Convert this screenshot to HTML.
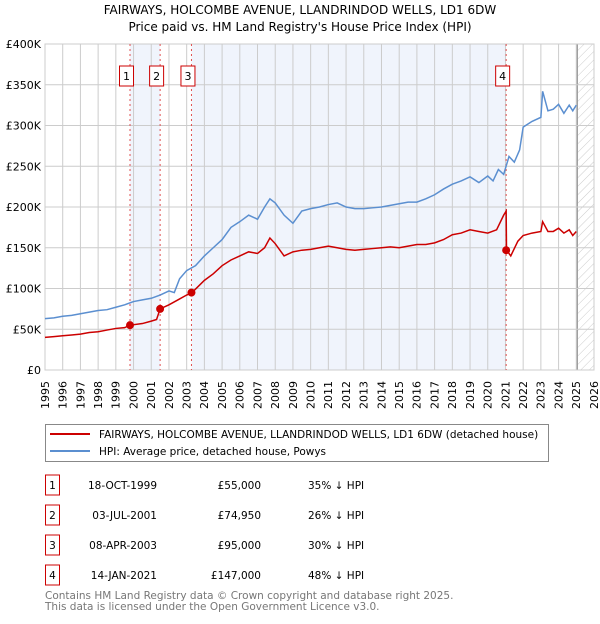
<!DOCTYPE html>
<html><head><meta charset="utf-8"><style>
body{margin:0;background:#fff;font-family:"DejaVu Sans","Liberation Sans",sans-serif;}
svg text{font-family:"DejaVu Sans","Liberation Sans",sans-serif;}
</style></head><body>
<svg id="c" width="600" height="620" xmlns="http://www.w3.org/2000/svg">
<defs><pattern id="hatch" width="6" height="6" patternUnits="userSpaceOnUse" patternTransform="rotate(45)"><line x1="0" y1="0" x2="0" y2="6" stroke="#ccc" stroke-width="1"/></pattern></defs>
<text x="300" y="14" text-anchor="middle" font-size="12" fill="#000">FAIRWAYS, HOLCOMBE AVENUE, LLANDRINDOD WELLS, LD1 6DW</text>
<text x="300" y="31" text-anchor="middle" font-size="12" fill="#000">Price paid vs. HM Land Registry's House Price Index (HPI)</text>
<g id="plot"></g>
<g>
<rect x="45.5" y="424.5" width="503" height="37" fill="#fff" stroke="#888"/>
<line x1="50" y1="434" x2="90" y2="434" stroke="#cc0000" stroke-width="2"/>
<text x="99" y="438" font-size="10.5">FAIRWAYS, HOLCOMBE AVENUE, LLANDRINDOD WELLS, LD1 6DW (detached house)</text>
<line x1="50" y1="451" x2="90" y2="451" stroke="#5b8fd0" stroke-width="2"/>
<text x="99" y="455" font-size="10.5">HPI: Average price, detached house, Powys</text>
</g>
<g id="tbl" font-size="10.5"></g>
<text x="45" y="599" font-size="10.5" fill="#777">Contains HM Land Registry data © Crown copyright and database right 2025.</text>
<text x="45" y="610" font-size="10.5" fill="#777">This data is licensed under the Open Government Licence v3.0.</text>
</svg>
<script>
const hpiYears=[1995,1995.5,1996,1996.5,1997,1997.5,1998,1998.5,1999,1999.5,2000,2000.5,2001,2001.5,2002,2002.3,2002.6,2003,2003.5,2004,2004.5,2005,2005.5,2006,2006.5,2007,2007.4,2007.7,2008,2008.5,2009,2009.5,2010,2010.5,2011,2011.5,2012,2012.5,2013,2013.5,2014,2014.5,2015,2015.5,2016,2016.5,2017,2017.5,2018,2018.5,2019,2019.5,2020,2020.3,2020.6,2020.9,2021.2,2021.5,2021.8,2022,2022.5,2023,2023.1,2023.4,2023.7,2024,2024.3,2024.6,2024.8,2025];
const hpiValues=[63,64,66,67,69,71,73,74,77,80,84,86,88,92,97,95,112,122,128,140,150,160,175,182,190,185,200,210,205,190,180,195,198,200,203,205,200,198,198,199,200,202,204,206,206,210,215,222,228,232,237,230,238,232,246,240,262,255,270,298,305,310,342,318,320,326,315,325,318,325];
const redYears=[1995,1995.5,1996,1996.5,1997,1997.5,1998,1998.5,1999,1999.5,1999.8,2000.5,2001,2001.3,2001.5,2002,2002.5,2003,2003.3,2004,2004.5,2005,2005.5,2006,2006.5,2007,2007.4,2007.7,2008,2008.5,2009,2009.5,2010,2010.5,2011,2011.5,2012,2012.5,2013,2013.5,2014,2014.5,2015,2015.5,2016,2016.5,2017,2017.5,2018,2018.5,2019,2019.5,2020,2020.5,2020.9,2021.04,2021.06,2021.3,2021.7,2022,2022.5,2023,2023.1,2023.4,2023.7,2024,2024.3,2024.6,2024.8,2025];
const redValues=[40,41,42,43,44,46,47,49,51,52,55,57,60,62,75,80,86,92,95,110,118,128,135,140,145,143,150,162,155,140,145,147,148,150,152,150,148,147,148,149,150,151,150,152,154,154,156,160,166,168,172,170,168,172,190,195,147,140,158,165,168,170,182,170,170,174,168,172,165,170];
const saleYears=[1999.8,2001.5,2003.27,2021.04];
const saleValues=[55,74.95,95,147];
const saleLabels=["1","2","3","4"];
const saleDates=["18-OCT-1999","03-JUL-2001","08-APR-2003","14-JAN-2021"];
const salePrices=["£55,000","£74,950","£95,000","£147,000"];
const saleDiffs=["35% ↓ HPI","26% ↓ HPI","30% ↓ HPI","48% ↓ HPI"];
const yTicks=[0,50,100,150,200,250,300,350,400];
const yTickLabels=["£0","£50K","£100K","£150K","£200K","£250K","£300K","£350K","£400K"];
const xTicks=[1995,1996,1997,1998,1999,2000,2001,2002,2003,2004,2005,2006,2007,2008,2009,2010,2011,2012,2013,2014,2015,2016,2017,2018,2019,2020,2021,2022,2023,2024,2025,2026];

const L=45,R=594,T=44,B=370;
const x=v=>L+(v-1995)/(2026-1995)*(R-L);
const y=v=>B-v/400*(B-T);
const NS="http://www.w3.org/2000/svg";
const g=document.getElementById('plot');
function mk(tag,attrs,parent){const e=document.createElementNS(NS,tag);for(const k in attrs)e.setAttribute(k,attrs[k]);(parent||g).appendChild(e);return e;}

mk('rect',{x:L,y:T,width:R-L,height:B-T,fill:'#fff'});
let s1=mk('rect',{x:x(saleYears[0]),y:T,width:x(saleYears[1])-x(saleYears[0]),height:B-T,fill:'#f0f4fc'});


let s2=mk('rect',{x:x(saleYears[2]),y:T,width:x(saleYears[3])-x(saleYears[2]),height:B-T,fill:'#f0f4fc'});


let h=mk('rect',{x:x(2025.05),y:T,width:R-x(2025.05),height:B-T,fill:'url(#hatch)'});


mk('line',{x1:x(2025.05),x2:x(2025.05),y1:T,y2:B,stroke:'#999','stroke-width':1.5});

xTicks.forEach(t=>{
  mk('line',{x1:x(t),x2:x(t),y1:T,y2:B,stroke:'#ccc','stroke-width':1});
  const tx=mk('text',{x:x(t),y:B+11,'font-size':11,'text-anchor':'end',dy:'0.35em',transform:'rotate(-90 '+x(t)+' '+(B+11)+')'});
  tx.textContent=t;
  
  
});
yTicks.forEach((t,i)=>{
  mk('line',{x1:L,x2:R,y1:y(t),y2:y(t),stroke:'#ccc','stroke-width':1});
  const tx=mk('text',{x:L-4,y:y(t)+4,'font-size':11,'text-anchor':'end'});
  tx.textContent=yTickLabels[i];
  
  
});
mk('rect',{x:L,y:T,width:R-L,height:B-T,fill:'none',stroke:'#ccc'});

saleYears.forEach((s,i)=>{
  mk('line',{x1:x(s),x2:x(s),y1:T,y2:B,stroke:'#e05050','stroke-width':1,'stroke-dasharray':'2,3'});
  const bx=mk('rect',{x:x(s)-10.5,y:66,width:14,height:20,fill:'#fff',stroke:'#cc0000'});
  
  
  const tx=mk('text',{x:x(s)-3.5,y:80,'font-size':11,'text-anchor':'middle'});
  tx.textContent=saleLabels[i];
});

const hp=mk('polyline',{points:hpiYears.map((t,i)=>x(t)+','+y(hpiValues[i])).join(' '),fill:'none',stroke:'#5b8fd0','stroke-width':1.5});


const rp=mk('polyline',{points:redYears.map((t,i)=>x(t)+','+y(redValues[i])).join(' '),fill:'none',stroke:'#cc0000','stroke-width':1.5});


saleYears.forEach((s,i)=>{
  const c=mk('circle',{cx:x(s),cy:y(saleValues[i]),r:4,fill:'#cc0000'});
  
  
});

const tb=document.getElementById('tbl');
saleLabels.forEach((l,i)=>{
  const yy=485+i*30;
  mk('rect',{x:45.5,y:yy-10,width:14,height:20,fill:'#fff',stroke:'#cc0000'},tb);
  let t=mk('text',{x:52.5,y:yy+4,'text-anchor':'middle'},tb);t.textContent=l;
  t=mk('text',{x:157,y:yy+4,'text-anchor':'end'},tb);t.textContent=saleDates[i];
  
  
  t=mk('text',{x:261,y:yy+4,'text-anchor':'end'},tb);t.textContent=salePrices[i];
  
  
  t=mk('text',{x:308,y:yy+4},tb);t.textContent=saleDiffs[i];
  
  
});
</script>
</body></html>
